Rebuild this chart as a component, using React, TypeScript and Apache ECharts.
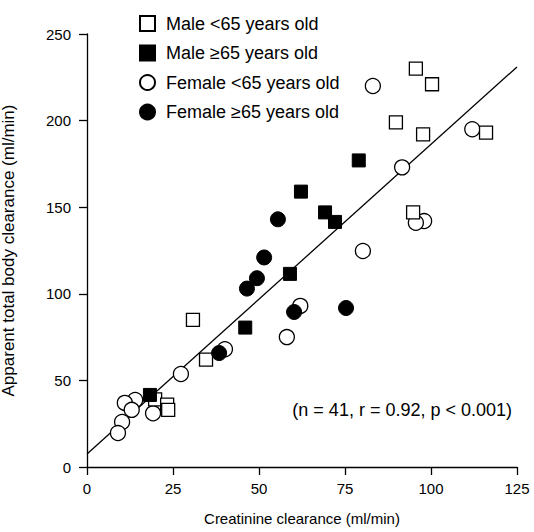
import React, { useEffect, useRef } from "react";
import * as echarts from "echarts";

const seriesNames = [
  "Male <65 years old",
  "Male ≥65 years old",
  "Female <65 years old",
  "Female ≥65 years old",
];

const maleYoungX = [95.6, 100.3, 89.8, 97.7, 116, 94.8, 30.8, 34.6, 19.8, 23.3, 23.6];
const maleYoungY = [230, 221, 199, 192, 193, 147, 85, 62, 39, 36, 33];

const maleOldX = [79, 62.2, 69.2, 72.1, 59, 46, 18.3];
const maleOldY = [177, 159, 147, 141.5, 111.5, 80.5, 41.6];

const femaleYoungX = [83.1, 112, 91.6, 98, 95.6, 80.2, 62, 58.1, 40.1, 27.3, 14, 11, 13, 19.2, 10.2, 9];
const femaleYoungY = [220, 195, 173, 142, 141, 124.7, 93, 75, 68, 53.7, 38.7, 37, 33, 31, 26, 19.6];

const femaleOldX = [55.5, 51.5, 49.4, 46.5, 60.2, 75.3, 38.4];
const femaleOldY = [143, 121, 109, 103, 89.5, 91.8, 65.8];

const regressionX = [0, 125];
const regressionY = [7.5, 231];

const xTicks = [0, 25, 50, 75, 100, 125];
const yTicks = [0, 50, 100, 150, 200, 250];

const annotation = "(n = 41, r = 0.92, p < 0.001)";
const xTitle = "Creatinine clearance (ml/min)";
const yTitle = "Apparent total body clearance (ml/min)";

const FONT = "'Liberation Sans', Arial, Helvetica, sans-serif";

const zip = (xs: number[], ys: number[]) => xs.map((x, i) => [x, ys[i]]);

export default function App() {
  const ref = useRef<HTMLDivElement>(null);
  useEffect(() => {
    if (!ref.current) return;
    const chart = echarts.init(ref.current, null, { renderer: "svg" });
    const axisCommon = {
      axisLine: { show: true, lineStyle: { color: "#000", width: 1.3 } },
      axisTick: { show: true, inside: false, length: 8, lineStyle: { color: "#000", width: 1.3 } },
      splitLine: { show: false },
      nameLocation: "middle" as const,
    };
    const open = { color: "#fff", borderColor: "#000", borderWidth: 1.3, opacity: 1 };
    const filled = { color: "#000", borderColor: "#000", borderWidth: 1, opacity: 1 };
    chart.setOption({
      animation: false,
      backgroundColor: "#fff",
      textStyle: { fontFamily: FONT, color: "#000" },
      grid: { left: 87, right: 17, top: 34, bottom: 65, outerBoundsMode: "none", containLabel: false },
      legend: {
        orient: "vertical",
        left: 134,
        top: 9,
        itemWidth: 15,
        itemHeight: 15,
        itemGap: 10.5,
        data: seriesNames,
        textStyle: { fontSize: 18, color: "#000", fontFamily: FONT, lineHeight: 19, padding: [0, 0, 0, 6] },
        selectedMode: false,
      },
      xAxis: {
        type: "value",
        min: xTicks[0],
        max: xTicks[xTicks.length - 1],
        interval: 25,
        name: xTitle,
        nameGap: 44,
        nameTextStyle: { color: "#000", fontSize: 15, fontFamily: FONT },
        axisLabel: { color: "#000", fontSize: 15, fontFamily: FONT, margin: 14 },
        ...axisCommon,
      },
      yAxis: {
        type: "value",
        min: yTicks[0],
        max: yTicks[yTicks.length - 1],
        interval: 50,
        name: yTitle,
        nameGap: 70,
        nameTextStyle: { color: "#000", fontSize: 17, fontFamily: FONT },
        axisLabel: { color: "#000", fontSize: 15, fontFamily: FONT, margin: 16 },
        ...axisCommon,
      },
      series: [
        {
          name: "regression",
          type: "line",
          data: zip(regressionX, regressionY),
          symbol: "none",
          lineStyle: { color: "#000", width: 1.3 },
          silent: true,
          z: 1,
        },
        {
          name: seriesNames[2],
          type: "scatter",
          data: zip(femaleYoungX, femaleYoungY),
          symbol: "circle",
          symbolSize: 15,
          itemStyle: open,
          z: 2,
        },
        {
          name: seriesNames[0],
          type: "scatter",
          data: zip(maleYoungX, maleYoungY),
          symbol: "rect",
          symbolSize: 13,
          itemStyle: open,
          z: 3,
        },
        {
          name: seriesNames[3],
          type: "scatter",
          data: zip(femaleOldX, femaleOldY),
          symbol: "circle",
          symbolSize: 15,
          itemStyle: filled,
          z: 4,
        },
        {
          name: seriesNames[1],
          type: "scatter",
          data: zip(maleOldX, maleOldY),
          symbol: "rect",
          symbolSize: 13,
          itemStyle: filled,
          z: 5,
        },
      ],
      graphic: [
        {
          type: "text",
          right: 22,
          top: 401,
          style: { text: annotation, fontSize: 18, fontFamily: FONT, fill: "#000" },
        },
      ],
    });
    return () => chart.dispose();
  }, []);
  return <div ref={ref} style={{ width: 534, height: 532, position: "absolute", left: 0, top: 0 }} />;
}
